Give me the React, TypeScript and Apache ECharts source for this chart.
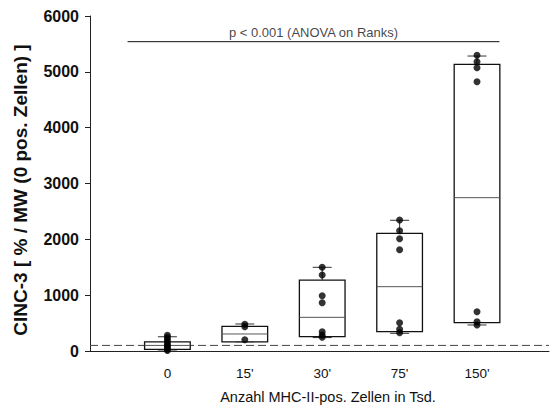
import React, { useEffect, useRef } from "react";
import * as echarts from "echarts";

const categories = ["0", "15'", "30'", "75'", "150'"];
const positions = [1, 2, 3, 4, 5];
// [lower whisker, Q1, median, Q3, upper whisker]
const boxStats = [
  [0, 30, 100, 165, 255],
  [165, 165, 305, 442, 484],
  [240, 256, 603, 1271, 1499],
  [317, 346, 1152, 2108, 2341],
  [466, 507, 2746, 5135, 5283],
];
const points0 = [280, 240, 200, 160, 120, 90, 60, 30, 10];
const points15 = [480, 435, 200];
const points30 = [1500, 1360, 990, 865, 346, 287, 245];
const points75 = [2346, 2155, 2011, 1814, 507, 388, 328];
const points150 = [5296, 5181, 5074, 4823, 704, 525, 466];
const referenceLevel = 100;
const sigBar = { from: 0.485, to: 5.29, value: 5540, text: "p < 0.001 (ANOVA on Ranks)" };
const yTicks = { min: 0, max: 6000, interval: 1000 };

const FONT = "'Liberation Sans', Arial, sans-serif";

export default function App() {
  const ref = useRef<HTMLDivElement>(null);
  useEffect(() => {
    if (!ref.current) return;
    const chart = echarts.init(ref.current, undefined, { renderer: "svg" });
    const allPoints = [points0, points15, points30, points75, points150];
    const scatterData: number[][] = [];
    allPoints.forEach((arr, i) => arr.forEach((v) => scatterData.push([positions[i], v])));
    const boxData = boxStats.map((s, i) => [positions[i], ...s]);
    const xMax = 5.93;
    const boxWidth = 0.59;
    const capWidth = 0.245;

    chart.setOption({
      animation: false,
      backgroundColor: "#fff",
      grid: { left: 90, right: 2, top: 16, bottom: 59 },
      xAxis: {
        type: "value",
        min: 0,
        max: xMax,
        interval: 1,
        axisLine: { show: true, lineStyle: { color: "#222", width: 1 } },
        axisTick: { show: false },
        splitLine: { show: false },
        axisLabel: {
          margin: 15,
          fontFamily: FONT,
          fontSize: 13.5,
          color: "#111",
          formatter: (v: number) => {
            const idx = positions.indexOf(v);
            return idx >= 0 ? categories[idx] : "";
          },
        },
      },
      yAxis: {
        type: "value",
        min: yTicks.min,
        max: yTicks.max,
        interval: yTicks.interval,
        axisLine: { show: true, lineStyle: { color: "#222", width: 1 } },
        axisTick: { show: true, length: 5, lineStyle: { color: "#222" } },
        splitLine: { show: false },
        axisLabel: {
          margin: 11,
          fontFamily: FONT,
          fontSize: 16,
          fontWeight: "bold",
          color: "#111",
          formatter: (v: number) => String(v),
        },
      },
      graphic: [
        {
          type: "text",
          x: 20,
          y: 190,
          rotation: Math.PI / 2,
          style: {
            text: "CINC-3 [ % / MW (0 pos. Zellen) ]",
            fontFamily: FONT,
            fontSize: 19,
            fontWeight: "bold",
            fill: "#111",
            align: "center",
            verticalAlign: "middle",
          },
        },
        {
          type: "text",
          x: 328,
          y: 397,
          style: {
            text: "Anzahl MHC-II-pos. Zellen in Tsd.",
            fontFamily: FONT,
            fontSize: 14.5,
            fill: "#111",
            align: "center",
            verticalAlign: "middle",
          },
        },
      ],
      series: [
        {
          type: "line",
          data: [
            [0, referenceLevel],
            [xMax, referenceLevel],
          ],
          symbol: "none",
          lineStyle: { color: "#444", width: 1, type: [8, 4] },
          z: 1,
        },
        {
          type: "custom",
          data: boxData,
          encode: { x: 0, y: [1, 2, 3, 4, 5] },
          z: 2,
          renderItem: (params: any, api: any) => {
            const x = api.value(0);
            const lo = api.coord([x, api.value(1)]);
            const q1 = api.coord([x, api.value(2)]);
            const med = api.coord([x, api.value(3)]);
            const q3 = api.coord([x, api.value(4)]);
            const hi = api.coord([x, api.value(5)]);
            const w = api.size([boxWidth, 0])[0];
            const cw = api.size([capWidth, 0])[0];
            const cx = q1[0];
            const wl = { stroke: "#333", lineWidth: 1 };
            return {
              type: "group",
              children: [
                { type: "line", shape: { x1: cx, y1: hi[1], x2: cx, y2: q3[1] }, style: wl },
                { type: "line", shape: { x1: cx, y1: lo[1], x2: cx, y2: q1[1] }, style: wl },
                { type: "line", shape: { x1: cx - cw / 2, y1: hi[1], x2: cx + cw / 2, y2: hi[1] }, style: wl },
                { type: "line", shape: { x1: cx - cw / 2, y1: lo[1], x2: cx + cw / 2, y2: lo[1] }, style: wl },
                {
                  type: "rect",
                  shape: { x: cx - w / 2, y: q3[1], width: w, height: q1[1] - q3[1] },
                  style: { fill: "#fff", stroke: "#111", lineWidth: 1.3 },
                },
                {
                  type: "line",
                  shape: { x1: cx - w / 2, y1: med[1], x2: cx + w / 2, y2: med[1] },
                  style: { stroke: "#555", lineWidth: 1 },
                },
              ],
            };
          },
        },
        {
          type: "scatter",
          data: scatterData,
          symbol: "circle",
          symbolSize: 7,
          itemStyle: { color: "#000" },
          z: 3,
        },
        {
          type: "line",
          data: [
            [sigBar.from, sigBar.value],
            [sigBar.to, sigBar.value],
          ],
          symbol: "none",
          lineStyle: { color: "#111", width: 1 },
          z: 3,
        },
        {
          type: "scatter",
          data: [[(sigBar.from + sigBar.to) / 2, sigBar.value]],
          symbolSize: 0,
          label: {
            show: true,
            position: "top",
            distance: 3,
            formatter: sigBar.text,
            fontFamily: FONT,
            fontSize: 13,
            color: "#111",
          },
          z: 3,
        },
      ],
    });
    return () => chart.dispose();
  }, []);
  return (
    <div
      ref={ref}
      style={{ position: "absolute", left: 0, top: 0, width: 552, height: 410 }}
    />
  );
}
